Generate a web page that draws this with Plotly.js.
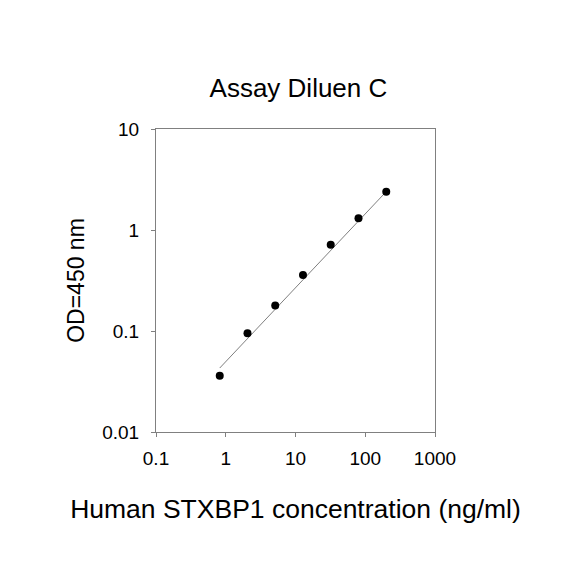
<!DOCTYPE html>
<html>
<head>
<meta charset="utf-8">
<script src="https://cdn.plot.ly/plotly-3.0.1.min.js"></script>
<style>html,body{margin:0;padding:0;background:#fff;}#chart{width:584px;height:584px;}</style>
</head>
<body>
<div id="chart"></div>
<script>
var concentration = [0.82, 2.05, 5.12, 12.8, 32, 80, 200];
var odValues = [0.036, 0.095, 0.179, 0.358, 0.716, 1.31, 2.39];
var fitX = [0.82, 200];
var fitY = [0.043, 2.4];
var xTickVals = [0.1, 1, 10, 100, 1000];
var xTickText = ['0.1', '1', '10', '100', '1000'];
var yTickVals = [0.01, 0.1, 1, 10];
var yTickText = ['0.01', '0.1', '1', '10'];

var traces = [
  {x: fitX, y: fitY, mode: 'lines', line: {color: '#7f7f7f', width: 1}, hoverinfo: 'skip', showlegend: false},
  {x: concentration, y: odValues, mode: 'markers', marker: {color: '#000', size: 8}, showlegend: false}
];
var axisCommon = {
  type: 'log', showgrid: false, zeroline: false, showline: true, mirror: true,
  linecolor: '#808080', linewidth: 1, ticks: 'outside', ticklen: 4, tickcolor: '#808080',
  tickfont: {family: 'Arial, Liberation Sans, sans-serif', size: 19, color: '#000'}
};
var layout = {
  width: 584, height: 584,
  margin: {l: 156, r: 149, t: 129, b: 152},
  paper_bgcolor: '#fff', plot_bgcolor: '#fff',
  font: {family: 'Arial, Liberation Sans, sans-serif', color: '#000'},
  title: {text: 'Assay Diluen C', font: {size: 26, color: '#000'}, x: 0.511, xanchor: 'center', y: 0.85, yanchor: 'middle'},
  xaxis: Object.assign({}, axisCommon, {
    range: [-1, 3], tickvals: xTickVals, ticktext: xTickText, ticklabelstandoff: 5,
    title: {text: 'Human STXBP1 concentration (ng/ml)', font: {size: 26.5}, standoff: 31}
  }),
  yaxis: Object.assign({}, axisCommon, {
    range: [-2, 1], tickvals: yTickVals, ticktext: yTickText, ticklabelstandoff: 8,
    title: {text: 'OD=450 nm', font: {size: 23}, standoff: 11}
  })
};
Plotly.newPlot('chart', traces, layout, {displayModeBar: false, staticPlot: true});
</script>
</body>
</html>
